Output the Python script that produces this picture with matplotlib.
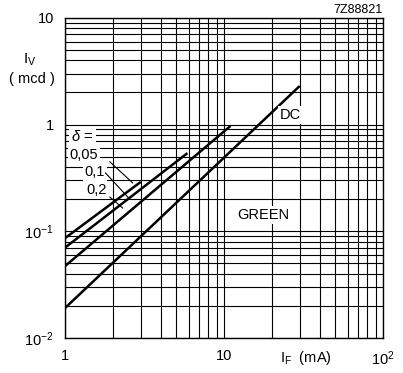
import numpy as np
import matplotlib
matplotlib.use('Agg')
import matplotlib.pyplot as plt

plt.rcParams['font.family'] = 'Liberation Sans'
plt.rcParams['mathtext.fontset'] = 'custom'
plt.rcParams['mathtext.rm'] = 'Liberation Sans'
plt.rcParams['mathtext.it'] = 'Liberation Sans:italic'

# forward current (mA) and luminous intensity (mcd), end points of each line
if_dc = [1, 30]
iv_dc = [0.019, 2.3]
if_005 = [1, 3.0]
iv_005 = [0.086, 0.29]
if_01 = [1, 5.9]
iv_01 = [0.070, 0.54]
if_02 = [1, 11]
iv_02 = [0.047, 0.97]

xticks = [1, 10, 100]
xlabels = ['1', '10', '$10^2$']
yticks = [0.01, 0.1, 1, 10]
ylabels = ['$10^{-2}$', '$10^{-1}$', '1', '10']

fig = plt.figure(figsize=(4.03, 3.73), dpi=100)
ax = fig.add_axes([0.161, 0.094, 0.789, 0.858])
ax.set_xscale('log')
ax.set_yscale('log')
ax.set_xlim(1, 100)
ax.set_ylim(0.01, 10)

ax.grid(True, which='both', color='black', lw=0.8)
ax.set_axisbelow(True)
for s in ax.spines.values():
    s.set_linewidth(1.0)
ax.tick_params(which='both', length=0, labelsize=10.5, pad=8)
ax.set_xticks(xticks)
ax.set_xticklabels(xlabels)
ax.set_yticks(yticks)
ax.set_yticklabels(ylabels)

for x, y in [(if_dc, iv_dc), (if_005, iv_005), (if_01, iv_01), (if_02, iv_02)]:
    ax.plot(x, y, color='black', lw=1.8, solid_capstyle='butt', zorder=3)

box = dict(facecolor='white', edgecolor='none', pad=1.5)
fs = 10.5
ax.text(22.5, 1.23, 'DC', fontsize=fs, bbox=box, zorder=4, ha='left', va='center')
ax.text(12.2, 0.142, 'GREEN', fontsize=fs, bbox=box, zorder=4, ha='left', va='center')
ax.text(1.10, 0.77, '$\\delta$ =', fontsize=fs, bbox=box, zorder=4, ha='left', va='center')
ax.text(1.07, 0.52, '0,05', fontsize=fs, bbox=box, zorder=4, ha='left', va='center')
ax.text(1.33, 0.36, '0,1', fontsize=fs, bbox=box, zorder=4, ha='left', va='center')
ax.text(1.37, 0.244, '0,2', fontsize=fs, bbox=box, zorder=4, ha='left', va='center')
# leader lines from labels to curves
ax.plot([1.92, 2.67], [0.447, 0.284], color='black', lw=0.8, zorder=5)
ax.plot([1.80, 2.49], [0.352, 0.209], color='black', lw=0.8, zorder=5)
ax.plot([1.92, 2.31], [0.209, 0.165], color='black', lw=0.8, zorder=5)

fig.text(30 / 403, 1 - 60 / 373, '$\\mathregular{I_V}$', fontsize=11, ha='center', va='center')
fig.text(32 / 403, 1 - 79 / 373, '( mcd )', fontsize=10.5, ha='center', va='center')
fig.text(306 / 403, 1 - 358 / 373, '$\\mathregular{I_F}$  (mA)', fontsize=10.5, ha='center', va='center')
fig.text(383 / 403, 1 - 10 / 373, '7Z88821', fontsize=9, ha='right', va='center')

fig.savefig('out.png', dpi=100)
